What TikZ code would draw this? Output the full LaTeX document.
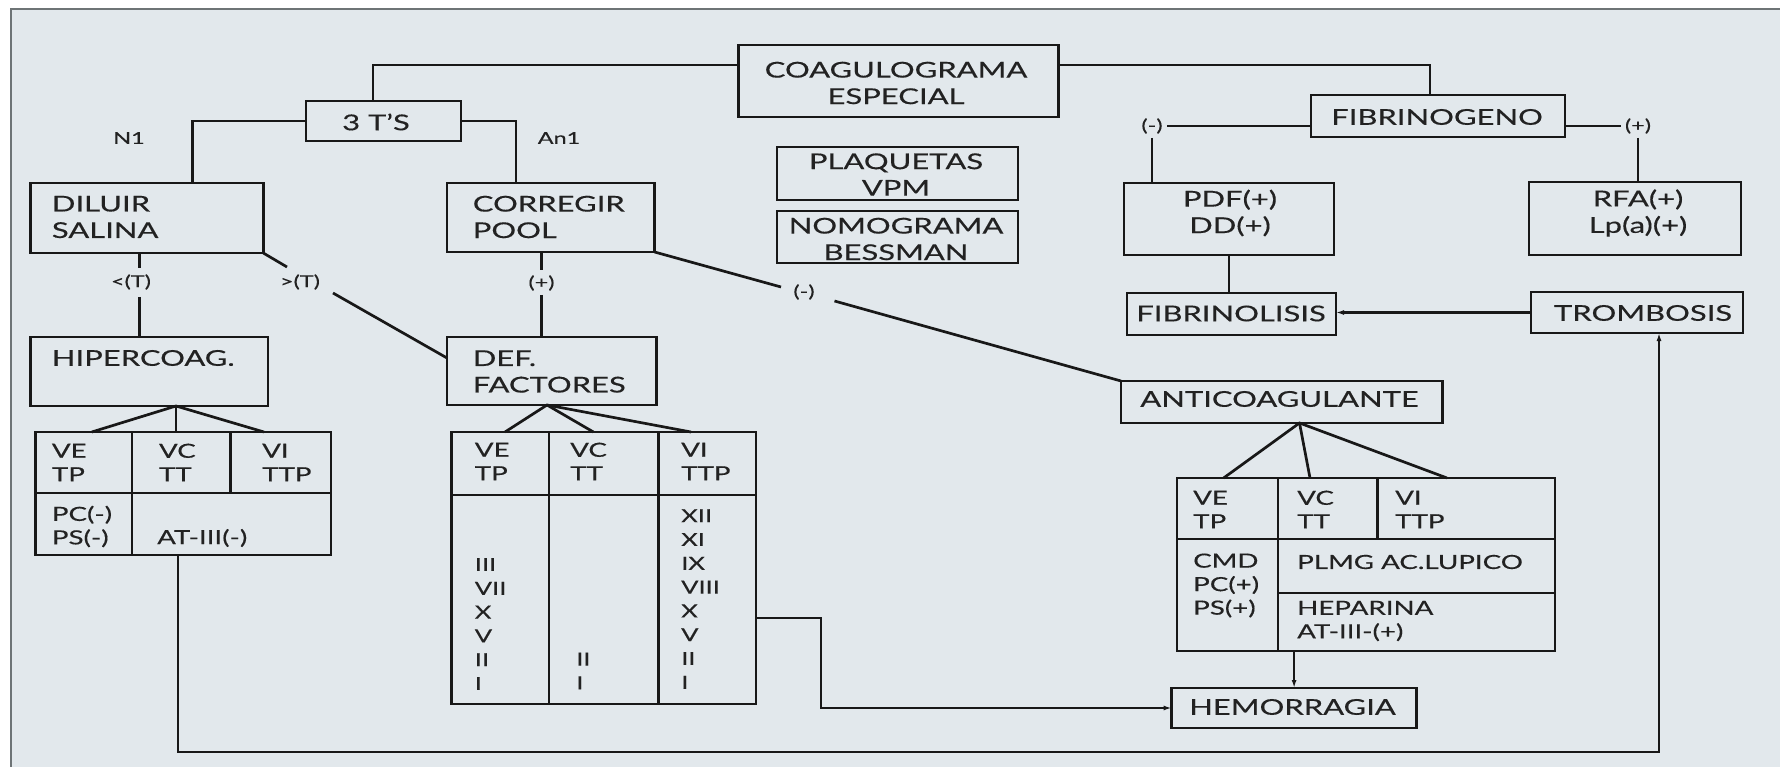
\documentclass[tikz,border=0pt]{standalone}
\usepackage{fontspec}
\setmainfont{Lato}[FakeStretch=1.42,FakeBold=0.35]
\usetikzlibrary{fit,arrows.meta}
\definecolor{bg}{RGB}{226,232,236}
\definecolor{lc}{RGB}{24,24,24}
\definecolor{tc}{RGB}{34,34,34}
\definecolor{fr}{RGB}{110,116,118}
\begin{document}
\begin{tikzpicture}[x=1pt,y=-1pt,
  box/.style={draw=lc,line width=2.7pt,inner sep=0pt,outer sep=0pt},
  conn/.style={draw=lc,line width=2.7pt},
  arr/.style={conn,-{Latex[length=8pt,width=5pt]}},
  big/.style={text=tc,inner sep=0pt,font=\fontsize{21.8}{26.5}\selectfont},
  cell/.style={text=tc,inner sep=0pt,anchor=west,align=left,font=\fontsize{19.5}{23.5}\selectfont},
  num/.style={text=tc,inner sep=0pt,anchor=west,align=left,font=\fontsize{18}{23.8}\selectfont},
  lab/.style={text=tc,inner sep=4pt,font=\fontsize{16.5}{19}\selectfont},
]
\useasboundingbox (0,0) rectangle (1780,767);
\fill[white] (0,0) rectangle (1780,767);
\fill[bg] (11,9) rectangle (1780,767);
\draw[fr,line width=2.5pt] (11,767) -- (11,9) -- (1780,9);

% boxes
\node[box,fit={(738.8,45)(1058.4,117)}] (coag) {};
\node[box,fit={(306,101)(461,141)}] (ts) {};
\node[box,fit={(30.6,183)(263.3,253)}] (dil) {};
\node[box,fit={(447,183)(654.6,252)}] (cor) {};
\node[box,fit={(777,147)(1018,200)}] (plaq) {};
\node[box,fit={(777,211)(1018,263)}] (nomo) {};
\node[box,fit={(1311,95)(1565,137)}] (fib) {};
\node[box,fit={(1124,183)(1334,255)}] (pdf) {};
\node[box,fit={(1529,182)(1741,255)}] (rfa) {};
\node[box,fit={(1127,293)(1336,335)}] (fibl) {};
\node[box,fit={(1531,292)(1743,333)}] (trom) {};
\node[box,fit={(1121,381)(1442.6,423)}] (anti) {};
\node[box,fit={(1171.6,688)(1416.6,728)}] (hem) {};
\node[box,fit={(30.6,337)(268,406)}] (hip) {};
\node[box,fit={(447,337)(656.5,405)}] (def) {};
\node[box,fit={(35.2,432)(331,555)}] (htab) {};
\node[box,fit={(451.6,432)(756,704)}] (dtab) {};
\node[box,fit={(1177,478)(1555,651)}] (atab) {};

% table grid lines
\draw[conn] (132,0 |- htab.north) -- (132,0 |- htab.south);
\draw[conn] (230.8,0 |- htab.north) -- (230.8,493);
\draw[conn] (htab.west |- 0,493) -- (htab.east |- 0,493);
\draw[conn] (549,0 |- dtab.north) -- (549,0 |- dtab.south);
\draw[conn] (658.5,0 |- dtab.north) -- (658.5,0 |- dtab.south);
\draw[conn] (dtab.west |- 0,495) -- (dtab.east |- 0,495);
\draw[conn] (1278,0 |- atab.north) -- (1278,0 |- atab.south);
\draw[conn] (1377.5,0 |- atab.north) -- (1377.5,539);
\draw[conn] (atab.west |- 0,539) -- (atab.east |- 0,539);
\draw[conn] (1278,593) -- (atab.east |- 0,593);

% box texts
\node[big,align=center] (coagT) at (896,83) {COAGULOGRAMA\\ESPECIAL};
\node[big] (tsT) at (376,122) {3 T’S};
\node[big,anchor=west,align=left] (dilT) at (51.7,217) {DILUIR\\SALINA};
\node[big,anchor=west,align=left] (corT) at (472.6,217) {CORREGIR\\POOL};
\node[big,align=center] (plaqT) at (896,174.5) {PLAQUETAS\\VPM};
\node[big,align=center] (nomoT) at (896,239) {NOMOGRAMA\\BESSMAN};
\node[big] (fibT) at (1437,117) {FIBRINOGENO};
\node[big,align=center] (pdfT) at (1230,213) {PDF(+)\\DD(+)};
\node[big,align=center] (rfaT) at (1638,213) {RFA(+)\\Lp(a)(+)};
\node[big] (fiblT) at (1231,313.5) {FIBRINOLISIS};
\node[big] (tromT) at (1643,313) {TROMBOSIS};
\node[big] (antiT) at (1279.5,399) {ANTICOAGULANTE};
\node[big] (hemT) at (1292.5,707) {HEMORRAGIA};
\node[big,anchor=west] (hipT) at (51.7,358) {HIPERCOAG.};
\node[big,anchor=west,align=left] (defT) at (472.6,371.5) {DEF.\\FACTORES};

% table texts
\node[cell] (h1) at (51.7,462.5) {VE\\TP};
\node[cell] (h2) at (158.8,462.5) {VC\\TT};
\node[cell] (h3) at (262,462.5) {VI\\TTP};
\node[cell] (h4) at (51.7,526.5) {PC(-)\\PS(-)};
\node[cell] (h5) at (157,538) {AT-III(-)};
\node[cell] (d1) at (474.6,461.5) {VE\\TP};
\node[cell] (d2) at (570,461.5) {VC\\TT};
\node[cell] (d3) at (681,461.5) {VI\\TTP};
\node[num] (d4) at (474.6,624) {III\\VII\\X\\V\\II\\I};
\node[num] (d5) at (576,671) {II\\I};
\node[num] (d6) at (681,599) {XII\\XI\\IX\\VIII\\X\\V\\II\\I};
\node[cell] (a1) at (1193,509.5) {VE\\TP};
\node[cell] (a2) at (1297,509.5) {VC\\TT};
\node[cell] (a3) at (1395,509.5) {VI\\TTP};
\node[cell] (a4) at (1193,585.5) {CMD\\PC(+)\\PS(+)};
\node[cell] (a5) at (1297,562) {PLMG AC.LUPICO};
\node[cell] (a6) at (1297,621) {HEPARINA\\AT-III-(+)};

% labels
\node[lab] (n1) at (129,138) {N1};
\node[lab] (an1) at (559,138) {An1};
\node[lab] (ltT) at (131,282) {<(T)};
\node[lab] (gtT) at (300,282) {>(T)};
\node[lab] (plus1) at (541.5,283) {(+)};
\node[lab] (neg1) at (804,292) {(-)};
\node[lab] (fneg) at (1152,126) {(-)};
\node[lab] (fpos) at (1638,126) {(+)};

% connectors
\coordinate (j1) at (373,65);
\coordinate (j2) at (1430,65);
\coordinate (j3) at (192.5,122);
\coordinate (j4) at (515.9,122);
\draw[conn] (coag.west |- j1) -- (j1) -- (j1 |- ts.north);
\draw[conn] (coag.east |- j2) -- (j2) -- (j2 |- fib.north);
\draw[conn] (ts.west) -- (ts.west -| j3) -- (j3 |- dil.north);
\draw[conn] (ts.east) -- (ts.east -| j4) -- (j4 |- cor.north);

\draw[conn] (fib.west |- fneg.east) -- (fneg.east);
\draw[conn] (fneg.south) -- (fneg.south |- pdf.north);
\draw[conn] (fib.east |- fpos.west) -- (fpos.west);
\draw[conn] (fpos.south) -- (fpos.south |- rfa.north);
\draw[conn] (pdf.south) -- (pdf.south |- fibl.north);
\draw[arr] (trom.west) -- (trom.west -| fibl.east);

\coordinate (lp1) at (178,752);
\coordinate (lp2) at (1659,752);
\draw[arr] (htab.south -| lp1) -- (lp1) -- (lp2) -- (lp2 |- trom.south);

\coordinate (ltA) at (139.7,268);
\coordinate (ltB) at (139.7,297);
\draw[conn] (dil.south -| ltA) -- (ltA);
\draw[conn] (ltB) -- (ltB |- hip.north);

\coordinate (gtA) at (287,267);
\coordinate (gtB) at (333,293);
\draw[conn] (dil.south east) -- (gtA);
\draw[conn] (gtB) -- (def.west |- 0,358);

\coordinate (plA) at (541.5,270);
\coordinate (plB) at (541.5,295);
\draw[conn] (cor.south -| plA) -- (plA);
\draw[conn] (plB) -- (plB |- def.north);

\coordinate (ngA) at (781,287);
\coordinate (ngB) at (834.5,301);
\draw[conn] (cor.south east) -- (ngA);
\draw[conn] (ngB) -- (anti.north west);

\draw[conn] (htab.north -| 91.8,0) -- (hip.south -| 176,0) -- (htab.north -| 264,0);
\draw[conn] (hip.south -| 176,0) -- (htab.north -| 176,0);
\draw[conn] (dtab.north -| 505,0) -- (def.south -| 547,0) -- (dtab.north -| 691,0);
\draw[conn] (def.south -| 547,0) -- (dtab.north -| 593.4,0);
\draw[conn] (atab.north -| 1223.6,0) -- (anti.south -| 1299.5,0) -- (atab.north -| 1447,0);
\draw[conn] (anti.south -| 1299.5,0) -- (atab.north -| 1310,0);

\coordinate (dh) at (821,618);
\draw[arr] (dtab.east |- dh) -- (dh) -- (dh |- hem.west) -- (hem.west);
\draw[arr] (hem.north |- atab.south) -- (hem.north);
\end{tikzpicture}
\end{document}
